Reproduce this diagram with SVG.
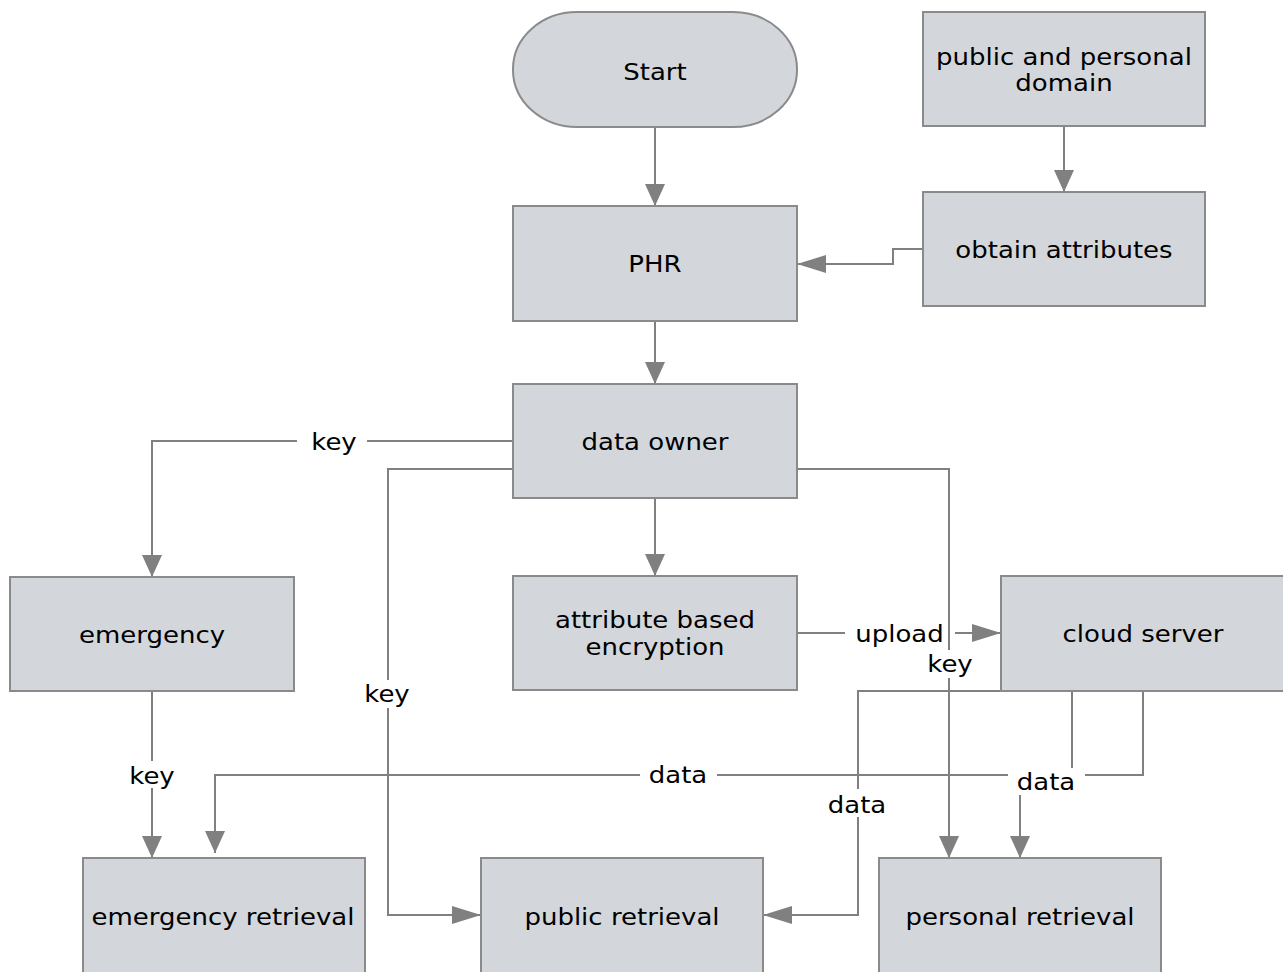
<svg xmlns="http://www.w3.org/2000/svg" width="1283" height="972" viewBox="0 0 1283 972">
  <style>
    .box { fill: #d3d7db; stroke: #8a8a8a; stroke-width: 2; }
    .t { font-family: "DejaVu Sans", Verdana, sans-serif; font-size: 23px; fill: #000; text-anchor: middle; }
    .edge { fill: none; stroke: #808080; stroke-width: 2; }
    .lbg { fill: #ffffff; }
  </style>
  <defs>
    <!-- head for vertical runs -->
    <marker id="av" markerUnits="userSpaceOnUse" markerWidth="22" markerHeight="20" refX="22" refY="10" orient="auto">
      <path d="M0,0 L22,10 L0,20 Z" fill="#808080"/>
    </marker>
    <!-- head for horizontal runs -->
    <marker id="ah" markerUnits="userSpaceOnUse" markerWidth="29" markerHeight="18" refX="29" refY="9" orient="auto">
      <path d="M0,0 L29,9 L0,18 Z" fill="#808080"/>
    </marker>
  </defs>

  <rect width="1283" height="972" fill="#ffffff"/>

  <!-- connectors -->
  <g id="connectors">
    <path class="edge" d="M655,127 V206" marker-end="url(#av)"/>
    <path class="edge" d="M1064,126 V192" marker-end="url(#av)"/>
    <path class="edge" d="M923,249 H893 V264 H797" marker-end="url(#ah)"/>
    <path class="edge" d="M655,321 V384" marker-end="url(#av)"/>

    <!-- data owner -> emergency -->
    <path class="edge" d="M513,441 H152 V577" marker-end="url(#av)"/>
    <rect class="lbg" x="297" y="428" width="70" height="27"/>
    <text class="t" transform="translate(334 0) scale(1.13 1)" y="450">key</text>

    <!-- data owner -> attribute based encryption -->
    <path class="edge" d="M655,498 V576" marker-end="url(#av)"/>

    <!-- encryption -> cloud server -->
    <path class="edge" d="M797,633 H1001" marker-end="url(#ah)"/>
    <rect class="lbg" x="845" y="620" width="110" height="27"/>
    <text class="t" transform="translate(899.5 0) scale(1.13 1)" y="642">upload</text>

    <!-- data owner -> public retrieval -->
    <path class="edge" d="M513,469 H388 V915 H481" marker-end="url(#ah)"/>

    <!-- emergency -> emergency retrieval -->
    <path class="edge" d="M152,691 V858" marker-end="url(#av)"/>
    <rect class="lbg" x="127" y="761" width="50" height="27"/>
    <text class="t" transform="translate(152 0) scale(1.13 1)" y="784">key</text>

    <!-- cloud server -> emergency retrieval -->
    <path class="edge" d="M1143,691 V775 H215 V853" marker-end="url(#av)"/>
    <rect class="lbg" x="640" y="762" width="77" height="27"/>
    <text class="t" transform="translate(678 0) scale(1.13 1)" y="783">data</text>

    <!-- cloud server -> public retrieval -->
    <path class="edge" d="M1001,691 H858 V915 H763" marker-end="url(#ah)"/>
    <rect class="lbg" x="826" y="789" width="62" height="28"/>
    <text class="t" transform="translate(857 0) scale(1.13 1)" y="813">data</text>

    <!-- data owner -> personal retrieval -->
    <path class="edge" d="M797,469 H949 V858" marker-end="url(#av)"/>
    <rect class="lbg" x="925" y="650" width="50" height="28"/>
    <text class="t" transform="translate(950 0) scale(1.13 1)" y="672">key</text>
    <rect class="lbg" x="362" y="680" width="50" height="28"/>
    <text class="t" transform="translate(387 0) scale(1.13 1)" y="702">key</text>

    <!-- cloud server -> personal retrieval -->
    <path class="edge" d="M1072,691 V782 H1020 V858" marker-end="url(#av)"/>
    <rect class="lbg" x="1008" y="768" width="77" height="27"/>
    <text class="t" transform="translate(1046 0) scale(1.13 1)" y="790">data</text>
  </g>

  <!-- nodes -->
  <g id="start">
    <rect class="box" x="513" y="12" width="284" height="115" rx="64" ry="57"/>
    <text class="t" transform="translate(655 0) scale(1.13 1)" y="80">Start</text>
  </g>
  <g id="domain">
    <rect class="box" x="923" y="12" width="282" height="114"/>
    <text class="t" transform="translate(1064 0) scale(1.13 1)"><tspan x="0" y="65">public and personal</tspan><tspan x="0" y="91">domain</tspan></text>
  </g>
  <g id="phr">
    <rect class="box" x="513" y="206" width="284" height="115"/>
    <text class="t" transform="translate(655 0) scale(1.13 1)" y="272">PHR</text>
  </g>
  <g id="obtain-attributes">
    <rect class="box" x="923" y="192" width="282" height="114"/>
    <text class="t" transform="translate(1064 0) scale(1.13 1)" y="258">obtain attributes</text>
  </g>
  <g id="data-owner">
    <rect class="box" x="513" y="384" width="284" height="114"/>
    <text class="t" transform="translate(655 0) scale(1.13 1)" y="450">data owner</text>
  </g>
  <g id="emergency">
    <rect class="box" x="10" y="577" width="284" height="114"/>
    <text class="t" transform="translate(152 0) scale(1.13 1)" y="643">emergency</text>
  </g>
  <g id="encryption">
    <rect class="box" x="513" y="576" width="284" height="114"/>
    <text class="t" transform="translate(655 0) scale(1.13 1)"><tspan x="0" y="628">attribute based</tspan><tspan x="0" y="655">encryption</tspan></text>
  </g>
  <g id="cloud-server">
    <rect class="box" x="1001" y="576" width="283" height="115"/>
    <text class="t" transform="translate(1143 0) scale(1.13 1)" y="642">cloud server</text>
  </g>
  <g id="emergency-retrieval">
    <rect class="box" x="83" y="858" width="282" height="115"/>
    <text class="t" transform="translate(223 0) scale(1.13 1)" y="925">emergency retrieval</text>
  </g>
  <g id="public-retrieval">
    <rect class="box" x="481" y="858" width="282" height="115"/>
    <text class="t" transform="translate(622 0) scale(1.13 1)" y="925">public retrieval</text>
  </g>
  <g id="personal-retrieval">
    <rect class="box" x="879" y="858" width="282" height="115"/>
    <text class="t" transform="translate(1020 0) scale(1.13 1)" y="925">personal retrieval</text>
  </g>
</svg>
